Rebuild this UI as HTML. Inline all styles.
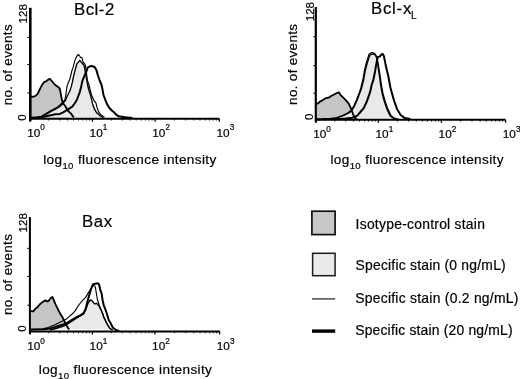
<!DOCTYPE html>
<html><head><meta charset="utf-8"><title>Figure</title>
<style>html,body{margin:0;padding:0;background:#fff;width:520px;height:379px;overflow:hidden;font-family:"Liberation Sans",sans-serif}svg{display:block;filter:blur(0.3px)}text{stroke:#000;stroke-width:0.2px}</style>
</head><body>
<svg width="520" height="379" viewBox="0 0 520 379" font-family='"Liberation Sans", sans-serif' fill="#000">
<polygon points="31.0,96.5 33.5,96.8 35.6,95.8 37.5,94.0 39.0,91.0 40.0,88.9 42.0,85.0 43.8,82.4 46.5,81.0 48.5,79.5 49.5,78.8 51.0,80.0 53.0,82.5 55.2,85.0 57.5,86.5 59.3,88.0 60.0,89.5 61.3,96.8 62.0,100.0 63.3,103.5 65.5,106.5 67.7,110.5 71.0,113.6 73.8,117.4 73.8,117.5 31.0,117.5" fill="#c5c5c5" stroke="none"/>
<polygon points="33.0,117.5 33.0,117.8 38.0,117.5 42.3,116.6 47.0,114.0 51.5,111.2 55.0,109.3 58.5,107.4 61.0,105.5 63.1,103.3 65.6,100.0 66.6,97.4 67.9,94.8 69.6,91.5 71.2,86.9 72.5,81.6 73.4,77.0 74.5,72.5 75.7,68.0 77.0,63.5 78.6,61.9 79.8,60.3 81.0,61.9 82.6,63.5 84.2,65.8 85.0,69.8 85.8,75.3 86.8,80.0 87.6,85.0 88.8,90.0 90.5,95.0 91.5,99.1 92.6,103.9 94.3,108.7 96.7,112.8 99.8,115.6 103.2,117.3 103.2,117.5" fill="#e9e9e9" stroke="none"/>
<polyline points="31.0,96.5 33.5,96.8 35.6,95.8 37.5,94.0 39.0,91.0 40.0,88.9 42.0,85.0 43.8,82.4 46.5,81.0 48.5,79.5 49.5,78.8 51.0,80.0 53.0,82.5 55.2,85.0 57.5,86.5 59.3,88.0 60.0,89.5 61.3,96.8 62.0,100.0 63.3,103.5 65.5,106.5 67.7,110.5 71.0,113.6 73.8,117.4" fill="none" stroke="#000" stroke-width="1.8" stroke-linejoin="round"/>
<polyline points="33.0,117.8 38.0,117.5 42.3,116.6 47.0,114.0 51.5,111.2 55.0,109.3 58.5,107.4 61.0,105.5 63.1,103.3 65.6,100.0 66.6,97.4 67.9,94.8 69.6,91.5 71.2,86.9 72.5,81.6 73.4,77.0 74.5,72.5 75.7,68.0 77.0,63.5 78.6,61.9 79.8,60.3 81.0,61.9 82.6,63.5 84.2,65.8 85.0,69.8 85.8,75.3 86.8,80.0 87.6,85.0 88.8,90.0 90.5,95.0 91.5,99.1 92.6,103.9 94.3,108.7 96.7,112.8 99.8,115.6 103.2,117.3" fill="none" stroke="#000" stroke-width="1.35" stroke-linejoin="round"/>
<polyline points="36.0,117.6 41.3,116.3 46.0,113.6 50.5,110.8 54.0,108.9 57.5,107.0 60.0,105.0 62.0,103.0 64.9,100.0 65.6,96.1 66.3,91.5 66.9,86.9 68.2,82.9 69.9,79.0 70.9,75.0 71.8,71.0 73.1,67.4 74.7,61.1 76.3,57.1 78.2,54.4 79.4,55.5 80.6,57.5 81.8,57.5 82.6,60.3 83.0,61.9 85.0,64.3 85.8,67.4 86.5,73.0 87.3,80.0 89.0,85.0 90.2,90.0 91.5,95.0 93.6,99.8 96.0,103.2 97.0,107.4 98.8,112.2 101.2,115.2 104.5,117.2" fill="none" stroke="#000" stroke-width="1.15" stroke-linejoin="round"/>
<polyline points="31.0,117.8 40.0,117.3 45.0,116.5 48.5,115.8 55.4,114.3 60.0,113.9 63.1,112.4 67.7,109.7 72.3,106.6 74.6,103.5 76.8,100.0 77.8,97.4 79.8,92.1 81.1,86.9 82.4,80.9 84.3,76.0 86.4,71.5 87.7,67.7 89.5,66.5 91.5,66.0 94.6,67.0 96.5,70.2 97.8,75.0 99.5,80.0 101.6,85.0 102.6,90.0 103.5,95.0 105.3,99.8 107.3,104.6 109.4,108.0 112.1,110.8 114.0,112.2 115.8,114.4 118.8,116.3 125.0,117.3 132.5,118.0" fill="none" stroke="#000" stroke-width="2.0" stroke-linejoin="round"/>
<line x1="30.30" y1="7.8" x2="30.30" y2="121.3" stroke="#000" stroke-width="2.6"/>
<line x1="29.0" y1="118.7" x2="219.3" y2="118.7" stroke="#000" stroke-width="2.1"/>
<line x1="27.4" y1="37.4" x2="30.0" y2="37.4" stroke="#000" stroke-width="1.1"/>
<line x1="27.4" y1="64.5" x2="30.0" y2="64.5" stroke="#000" stroke-width="1.1"/>
<line x1="27.4" y1="93.0" x2="30.0" y2="93.0" stroke="#000" stroke-width="1.1"/>
<line x1="30.0" y1="118.7" x2="30.0" y2="121.7" stroke="#000" stroke-width="1.3"/>
<line x1="48.8" y1="118.7" x2="48.8" y2="120.6" stroke="#000" stroke-width="0.8"/>
<line x1="59.8" y1="118.7" x2="59.8" y2="120.6" stroke="#000" stroke-width="0.8"/>
<line x1="67.6" y1="118.7" x2="67.6" y2="120.6" stroke="#000" stroke-width="0.8"/>
<line x1="73.6" y1="118.7" x2="73.6" y2="120.6" stroke="#000" stroke-width="0.8"/>
<line x1="78.6" y1="118.7" x2="78.6" y2="120.6" stroke="#000" stroke-width="0.8"/>
<line x1="82.7" y1="118.7" x2="82.7" y2="120.6" stroke="#000" stroke-width="0.8"/>
<line x1="86.4" y1="118.7" x2="86.4" y2="120.6" stroke="#000" stroke-width="0.8"/>
<line x1="89.5" y1="118.7" x2="89.5" y2="120.6" stroke="#000" stroke-width="0.8"/>
<text x="27.2" y="136.7" font-size="11.8">10<tspan font-size="8.2" dy="-6.4">0</tspan></text>
<line x1="92.4" y1="118.7" x2="92.4" y2="121.7" stroke="#000" stroke-width="1.3"/>
<line x1="111.3" y1="118.7" x2="111.3" y2="120.6" stroke="#000" stroke-width="0.8"/>
<line x1="122.3" y1="118.7" x2="122.3" y2="120.6" stroke="#000" stroke-width="0.8"/>
<line x1="130.1" y1="118.7" x2="130.1" y2="120.6" stroke="#000" stroke-width="0.8"/>
<line x1="136.2" y1="118.7" x2="136.2" y2="120.6" stroke="#000" stroke-width="0.8"/>
<line x1="141.2" y1="118.7" x2="141.2" y2="120.6" stroke="#000" stroke-width="0.8"/>
<line x1="145.4" y1="118.7" x2="145.4" y2="120.6" stroke="#000" stroke-width="0.8"/>
<line x1="149.0" y1="118.7" x2="149.0" y2="120.6" stroke="#000" stroke-width="0.8"/>
<line x1="152.2" y1="118.7" x2="152.2" y2="120.6" stroke="#000" stroke-width="0.8"/>
<text x="89.6" y="136.7" font-size="11.8">10<tspan font-size="8.2" dy="-6.4">1</tspan></text>
<line x1="155.1" y1="118.7" x2="155.1" y2="121.7" stroke="#000" stroke-width="1.3"/>
<line x1="174.4" y1="118.7" x2="174.4" y2="120.6" stroke="#000" stroke-width="0.8"/>
<line x1="185.7" y1="118.7" x2="185.7" y2="120.6" stroke="#000" stroke-width="0.8"/>
<line x1="193.8" y1="118.7" x2="193.8" y2="120.6" stroke="#000" stroke-width="0.8"/>
<line x1="200.0" y1="118.7" x2="200.0" y2="120.6" stroke="#000" stroke-width="0.8"/>
<line x1="205.1" y1="118.7" x2="205.1" y2="120.6" stroke="#000" stroke-width="0.8"/>
<line x1="209.4" y1="118.7" x2="209.4" y2="120.6" stroke="#000" stroke-width="0.8"/>
<line x1="213.1" y1="118.7" x2="213.1" y2="120.6" stroke="#000" stroke-width="0.8"/>
<line x1="216.4" y1="118.7" x2="216.4" y2="120.6" stroke="#000" stroke-width="0.8"/>
<text x="152.3" y="136.7" font-size="11.8">10<tspan font-size="8.2" dy="-6.4">2</tspan></text>
<line x1="219.3" y1="118.7" x2="219.3" y2="121.7" stroke="#000" stroke-width="1.3"/>
<text x="216.5" y="136.7" font-size="11.8">10<tspan font-size="8.2" dy="-6.4">3</tspan></text>
<text x="74.0" y="14.5" font-size="16.8" letter-spacing="0.5">Bcl-2</text>
<text transform="translate(11.6,105.3) rotate(-90)" font-size="13.4" letter-spacing="0.35">no. of events</text>
<text transform="translate(26.6,23.5) rotate(-90)" font-size="11.6">128</text>
<text transform="translate(26.4,120.8) rotate(-90)" font-size="11.6">0</text>
<text x="43.2" y="164.4" font-size="13.6" letter-spacing="0.36">log<tspan font-size="9.6" dy="4.6">10</tspan><tspan dy="-4.6"> fluorescence intensity</tspan></text>
<polygon points="316.9,104.0 318.4,103.1 319.9,101.6 322.8,100.1 325.7,98.2 328.6,97.7 331.6,95.7 334.5,94.3 337.4,92.8 338.9,92.3 340.4,94.8 343.3,97.7 346.2,100.6 348.7,103.6 350.6,107.5 351.6,110.4 353.1,114.3 355.0,118.2 357.0,119.0 357.0,118.6 317.0,118.6" fill="#c5c5c5" stroke="none"/>
<polygon points="322.0,118.6 322.0,119.0 328.0,118.8 335.5,118.2 343.3,115.6 348.0,113.5 351.4,111.2 354.3,106.5 357.0,100.5 359.8,93.1 361.5,88.5 362.3,85.0 363.5,80.6 365.2,71.1 367.0,64.0 368.8,58.1 370.0,55.0 372.6,53.8 374.9,54.5 376.4,57.3 377.5,62.8 378.7,71.1 379.8,78.3 380.6,85.0 382.3,94.2 384.6,102.3 387.5,110.4 390.4,116.1 393.8,118.4 397.0,119.0 397.0,118.6" fill="#e9e9e9" stroke="none"/>
<polyline points="316.9,104.0 318.4,103.1 319.9,101.6 322.8,100.1 325.7,98.2 328.6,97.7 331.6,95.7 334.5,94.3 337.4,92.8 338.9,92.3 340.4,94.8 343.3,97.7 346.2,100.6 348.7,103.6 350.6,107.5 351.6,110.4 353.1,114.3 355.0,118.2 357.0,119.0" fill="none" stroke="#000" stroke-width="1.8" stroke-linejoin="round"/>
<polyline points="322.0,119.0 328.0,118.8 335.5,118.2 343.3,115.6 348.0,113.5 351.4,111.2 354.3,106.5 357.0,100.5 359.8,93.1 361.5,88.5 362.3,85.0 363.5,80.6 365.2,71.1 367.0,64.0 368.8,58.1 370.0,55.0 372.6,53.8 374.9,54.5 376.4,57.3 377.5,62.8 378.7,71.1 379.8,78.3 380.6,85.0 382.3,94.2 384.6,102.3 387.5,110.4 390.4,116.1 393.8,118.4 397.0,119.0" fill="none" stroke="#000" stroke-width="1.35" stroke-linejoin="round"/>
<polyline points="324.0,118.9 330.0,118.6 336.5,117.9 343.0,115.2 347.5,113.0 350.8,110.7 353.7,106.0 356.4,100.0 359.2,92.6 360.8,88.0 361.6,84.5 362.8,80.0 364.4,70.6 366.1,63.5 367.9,57.6 369.1,54.0 372.0,52.6 374.6,53.2 376.6,56.4 378.0,62.4 379.3,70.6 380.5,77.9 381.4,84.6 383.1,93.8 385.4,102.0 388.4,110.1 391.4,115.9 395.0,118.4 398.5,119.0" fill="none" stroke="#000" stroke-width="1.15" stroke-linejoin="round"/>
<polyline points="317.0,119.2 333.5,119.1 345.0,118.6 351.1,118.1 355.0,116.7 357.3,115.6 360.8,111.5 363.7,108.1 366.5,102.3 369.4,94.2 370.6,90.0 371.6,85.0 373.2,80.6 374.9,72.3 376.1,65.2 377.3,59.3 377.9,56.9 379.7,56.6 381.5,54.5 382.7,53.9 383.8,55.7 385.0,61.6 386.2,67.6 388.0,74.7 389.4,82.0 390.4,87.5 391.9,93.1 394.2,101.1 397.1,109.2 400.6,115.0 404.6,117.9 410.4,119.0" fill="none" stroke="#000" stroke-width="2.0" stroke-linejoin="round"/>
<line x1="315.80" y1="7.0" x2="315.80" y2="122.4" stroke="#000" stroke-width="2.2"/>
<line x1="315.0" y1="119.8" x2="505.5" y2="119.8" stroke="#000" stroke-width="2.1"/>
<line x1="313.4" y1="36.6" x2="316.0" y2="36.6" stroke="#000" stroke-width="1.1"/>
<line x1="313.4" y1="65.6" x2="316.0" y2="65.6" stroke="#000" stroke-width="1.1"/>
<line x1="313.4" y1="93.2" x2="316.0" y2="93.2" stroke="#000" stroke-width="1.1"/>
<line x1="316.0" y1="119.8" x2="316.0" y2="122.8" stroke="#000" stroke-width="1.3"/>
<line x1="334.8" y1="119.8" x2="334.8" y2="121.7" stroke="#000" stroke-width="0.8"/>
<line x1="345.7" y1="119.8" x2="345.7" y2="121.7" stroke="#000" stroke-width="0.8"/>
<line x1="353.5" y1="119.8" x2="353.5" y2="121.7" stroke="#000" stroke-width="0.8"/>
<line x1="359.5" y1="119.8" x2="359.5" y2="121.7" stroke="#000" stroke-width="0.8"/>
<line x1="364.5" y1="119.8" x2="364.5" y2="121.7" stroke="#000" stroke-width="0.8"/>
<line x1="368.6" y1="119.8" x2="368.6" y2="121.7" stroke="#000" stroke-width="0.8"/>
<line x1="372.3" y1="119.8" x2="372.3" y2="121.7" stroke="#000" stroke-width="0.8"/>
<line x1="375.4" y1="119.8" x2="375.4" y2="121.7" stroke="#000" stroke-width="0.8"/>
<text x="313.2" y="138.1" font-size="11.8">10<tspan font-size="8.2" dy="-6.4">0</tspan></text>
<line x1="378.3" y1="119.8" x2="378.3" y2="122.8" stroke="#000" stroke-width="1.3"/>
<line x1="397.3" y1="119.8" x2="397.3" y2="121.7" stroke="#000" stroke-width="0.8"/>
<line x1="408.4" y1="119.8" x2="408.4" y2="121.7" stroke="#000" stroke-width="0.8"/>
<line x1="416.3" y1="119.8" x2="416.3" y2="121.7" stroke="#000" stroke-width="0.8"/>
<line x1="422.4" y1="119.8" x2="422.4" y2="121.7" stroke="#000" stroke-width="0.8"/>
<line x1="427.4" y1="119.8" x2="427.4" y2="121.7" stroke="#000" stroke-width="0.8"/>
<line x1="431.6" y1="119.8" x2="431.6" y2="121.7" stroke="#000" stroke-width="0.8"/>
<line x1="435.3" y1="119.8" x2="435.3" y2="121.7" stroke="#000" stroke-width="0.8"/>
<line x1="438.5" y1="119.8" x2="438.5" y2="121.7" stroke="#000" stroke-width="0.8"/>
<text x="375.5" y="138.1" font-size="11.8">10<tspan font-size="8.2" dy="-6.4">1</tspan></text>
<line x1="441.4" y1="119.8" x2="441.4" y2="122.8" stroke="#000" stroke-width="1.3"/>
<line x1="460.7" y1="119.8" x2="460.7" y2="121.7" stroke="#000" stroke-width="0.8"/>
<line x1="472.0" y1="119.8" x2="472.0" y2="121.7" stroke="#000" stroke-width="0.8"/>
<line x1="480.1" y1="119.8" x2="480.1" y2="121.7" stroke="#000" stroke-width="0.8"/>
<line x1="486.3" y1="119.8" x2="486.3" y2="121.7" stroke="#000" stroke-width="0.8"/>
<line x1="491.4" y1="119.8" x2="491.4" y2="121.7" stroke="#000" stroke-width="0.8"/>
<line x1="495.7" y1="119.8" x2="495.7" y2="121.7" stroke="#000" stroke-width="0.8"/>
<line x1="499.4" y1="119.8" x2="499.4" y2="121.7" stroke="#000" stroke-width="0.8"/>
<line x1="502.7" y1="119.8" x2="502.7" y2="121.7" stroke="#000" stroke-width="0.8"/>
<text x="438.6" y="138.1" font-size="11.8">10<tspan font-size="8.2" dy="-6.4">2</tspan></text>
<line x1="505.6" y1="119.8" x2="505.6" y2="122.8" stroke="#000" stroke-width="1.3"/>
<text x="502.8" y="138.1" font-size="11.8">10<tspan font-size="8.2" dy="-6.4">3</tspan></text>
<text x="371.0" y="14.3" font-size="16.8" letter-spacing="0.75">Bcl-x<tspan font-size="10" dy="4.6" dx="-1.0" letter-spacing="0">L</tspan></text>
<text transform="translate(297.3,104.9) rotate(-90)" font-size="13.4" letter-spacing="0.35">no. of events</text>
<text transform="translate(313.5,21.3) rotate(-90)" font-size="11.6">128</text>
<text transform="translate(313.4,120.0) rotate(-90)" font-size="11.6">0</text>
<text x="330.4" y="164.4" font-size="13.6" letter-spacing="0.36">log<tspan font-size="9.6" dy="4.6">10</tspan><tspan dy="-4.6"> fluorescence intensity</tspan></text>
<polygon points="30.9,310.9 33.2,311.5 35.5,308.6 37.3,307.4 39.6,304.5 43.1,301.6 45.4,300.4 47.7,301.6 49.5,299.9 50.6,298.1 52.4,297.0 53.5,299.3 55.3,303.9 57.6,308.6 59.9,313.2 62.8,317.8 65.1,322.5 67.4,327.1 69.2,329.5 69.2,329.0 31.0,329.0" fill="#c5c5c5" stroke="none"/>
<polygon points="50.0,329.0 50.0,330.0 56.0,328.5 62.0,326.5 66.0,325.0 70.8,322.0 76.0,318.5 80.3,316.0 83.5,314.0 85.6,310.0 87.0,306.0 88.5,302.5 90.2,300.0 91.6,300.4 93.0,302.0 94.9,304.0 96.6,303.3 98.0,304.8 99.3,306.7 102.0,312.0 104.0,318.0 106.7,323.3 109.8,328.5 112.5,330.0 112.5,329.0" fill="#e9e9e9" stroke="none"/>
<polyline points="30.9,310.9 33.2,311.5 35.5,308.6 37.3,307.4 39.6,304.5 43.1,301.6 45.4,300.4 47.7,301.6 49.5,299.9 50.6,298.1 52.4,297.0 53.5,299.3 55.3,303.9 57.6,308.6 59.9,313.2 62.8,317.8 65.1,322.5 67.4,327.1 69.2,329.5" fill="none" stroke="#000" stroke-width="1.8" stroke-linejoin="round"/>
<polyline points="50.0,330.0 56.0,328.5 62.0,326.5 66.0,325.0 70.8,322.0 76.0,318.5 80.3,316.0 83.5,314.0 85.6,310.0 87.0,306.0 88.5,302.5 90.2,300.0 91.6,300.4 93.0,302.0 94.9,304.0 96.6,303.3 98.0,304.8 99.3,306.7 102.0,312.0 104.0,318.0 106.7,323.3 109.8,328.5 112.5,330.0" fill="none" stroke="#000" stroke-width="1.35" stroke-linejoin="round"/>
<polyline points="31.0,329.6 42.0,329.0 48.0,327.5 55.0,324.8 60.0,322.3 65.6,319.6 68.7,316.9 71.9,314.3 75.0,311.1 78.2,305.8 80.0,303.5 82.4,300.6 85.6,297.4 88.8,292.1 90.4,289.5 91.5,287.3 93.0,285.6 94.8,285.8 95.5,288.0 96.3,293.0 97.3,299.0 99.0,304.5 101.3,310.0 104.0,317.0 106.7,323.0 109.8,328.3 112.5,330.0" fill="none" stroke="#000" stroke-width="1.15" stroke-linejoin="round"/>
<polyline points="31.0,329.6 45.0,329.3 50.0,328.5 55.0,327.0 60.0,325.5 65.6,323.8 70.8,320.6 76.1,317.4 80.3,315.3 83.5,313.2 85.6,309.0 86.6,305.0 87.7,300.6 89.8,293.2 90.9,289.5 91.8,287.0 93.1,284.3 95.7,283.6 98.4,283.4 99.3,285.2 100.2,289.7 101.6,293.3 102.5,299.5 103.8,305.8 104.9,308.0 106.6,313.0 108.9,320.5 110.2,322.4 112.9,327.8 116.5,330.3 119.2,331.0" fill="none" stroke="#000" stroke-width="2.0" stroke-linejoin="round"/>
<line x1="29.90" y1="217.0" x2="29.90" y2="334.1" stroke="#000" stroke-width="2.0"/>
<line x1="29.0" y1="331.5" x2="219.8" y2="331.5" stroke="#000" stroke-width="2.1"/>
<line x1="27.4" y1="248.4" x2="30.0" y2="248.4" stroke="#000" stroke-width="1.1"/>
<line x1="27.4" y1="276.4" x2="30.0" y2="276.4" stroke="#000" stroke-width="1.1"/>
<line x1="27.4" y1="305.3" x2="30.0" y2="305.3" stroke="#000" stroke-width="1.1"/>
<line x1="30.0" y1="331.5" x2="30.0" y2="334.5" stroke="#000" stroke-width="1.3"/>
<line x1="48.8" y1="331.5" x2="48.8" y2="333.4" stroke="#000" stroke-width="0.8"/>
<line x1="59.8" y1="331.5" x2="59.8" y2="333.4" stroke="#000" stroke-width="0.8"/>
<line x1="67.6" y1="331.5" x2="67.6" y2="333.4" stroke="#000" stroke-width="0.8"/>
<line x1="73.6" y1="331.5" x2="73.6" y2="333.4" stroke="#000" stroke-width="0.8"/>
<line x1="78.6" y1="331.5" x2="78.6" y2="333.4" stroke="#000" stroke-width="0.8"/>
<line x1="82.7" y1="331.5" x2="82.7" y2="333.4" stroke="#000" stroke-width="0.8"/>
<line x1="86.4" y1="331.5" x2="86.4" y2="333.4" stroke="#000" stroke-width="0.8"/>
<line x1="89.5" y1="331.5" x2="89.5" y2="333.4" stroke="#000" stroke-width="0.8"/>
<text x="27.2" y="350.2" font-size="11.8">10<tspan font-size="8.2" dy="-6.4">0</tspan></text>
<line x1="92.4" y1="331.5" x2="92.4" y2="334.5" stroke="#000" stroke-width="1.3"/>
<line x1="111.2" y1="331.5" x2="111.2" y2="333.4" stroke="#000" stroke-width="0.8"/>
<line x1="122.2" y1="331.5" x2="122.2" y2="333.4" stroke="#000" stroke-width="0.8"/>
<line x1="130.0" y1="331.5" x2="130.0" y2="333.4" stroke="#000" stroke-width="0.8"/>
<line x1="136.1" y1="331.5" x2="136.1" y2="333.4" stroke="#000" stroke-width="0.8"/>
<line x1="141.0" y1="331.5" x2="141.0" y2="333.4" stroke="#000" stroke-width="0.8"/>
<line x1="145.2" y1="331.5" x2="145.2" y2="333.4" stroke="#000" stroke-width="0.8"/>
<line x1="148.8" y1="331.5" x2="148.8" y2="333.4" stroke="#000" stroke-width="0.8"/>
<line x1="152.0" y1="331.5" x2="152.0" y2="333.4" stroke="#000" stroke-width="0.8"/>
<text x="89.6" y="350.2" font-size="11.8">10<tspan font-size="8.2" dy="-6.4">1</tspan></text>
<line x1="154.9" y1="331.5" x2="154.9" y2="334.5" stroke="#000" stroke-width="1.3"/>
<line x1="174.4" y1="331.5" x2="174.4" y2="333.4" stroke="#000" stroke-width="0.8"/>
<line x1="185.8" y1="331.5" x2="185.8" y2="333.4" stroke="#000" stroke-width="0.8"/>
<line x1="193.9" y1="331.5" x2="193.9" y2="333.4" stroke="#000" stroke-width="0.8"/>
<line x1="200.1" y1="331.5" x2="200.1" y2="333.4" stroke="#000" stroke-width="0.8"/>
<line x1="205.2" y1="331.5" x2="205.2" y2="333.4" stroke="#000" stroke-width="0.8"/>
<line x1="209.6" y1="331.5" x2="209.6" y2="333.4" stroke="#000" stroke-width="0.8"/>
<line x1="213.3" y1="331.5" x2="213.3" y2="333.4" stroke="#000" stroke-width="0.8"/>
<line x1="216.6" y1="331.5" x2="216.6" y2="333.4" stroke="#000" stroke-width="0.8"/>
<text x="152.1" y="350.2" font-size="11.8">10<tspan font-size="8.2" dy="-6.4">2</tspan></text>
<line x1="219.6" y1="331.5" x2="219.6" y2="334.5" stroke="#000" stroke-width="1.3"/>
<text x="216.8" y="350.2" font-size="11.8">10<tspan font-size="8.2" dy="-6.4">3</tspan></text>
<text x="82.0" y="226.8" font-size="16.8" letter-spacing="0.6">Bax</text>
<text transform="translate(11.6,315.0) rotate(-90)" font-size="13.4" letter-spacing="0.35">no. of events</text>
<text transform="translate(26.8,232.5) rotate(-90)" font-size="11.6">128</text>
<text transform="translate(26.4,331.8) rotate(-90)" font-size="11.6">0</text>
<text x="38.8" y="374.0" font-size="13.6" letter-spacing="0.36">log<tspan font-size="9.6" dy="4.6">10</tspan><tspan dy="-4.6"> fluorescence intensity</tspan></text>
<rect x="311.9" y="211.2" width="23.2" height="23.4" fill="#c8c8c8" stroke="#111" stroke-width="1.7"/>
<rect x="312.6" y="253.3" width="22.5" height="22.4" fill="#eaeaea" stroke="#1a1a1a" stroke-width="1.5"/>
<line x1="312" y1="298.9" x2="335.2" y2="298.9" stroke="#4a4a4a" stroke-width="1.5"/>
<line x1="312" y1="331.1" x2="335.2" y2="331.1" stroke="#000" stroke-width="3.4"/>
<text x="355.6" y="228.7" font-size="13.9" letter-spacing="0.25">Isotype-control stain</text>
<text x="355.5" y="269.6" font-size="13.9" letter-spacing="0.22">Specific stain (0 ng/mL)</text>
<text x="355.2" y="302.6" font-size="13.9" letter-spacing="0.26">Specific stain (0.2 ng/mL)</text>
<text x="355.2" y="334.9" font-size="13.9" letter-spacing="0.19">Specific stain (20 ng/mL)</text>
</svg>
</body></html>
